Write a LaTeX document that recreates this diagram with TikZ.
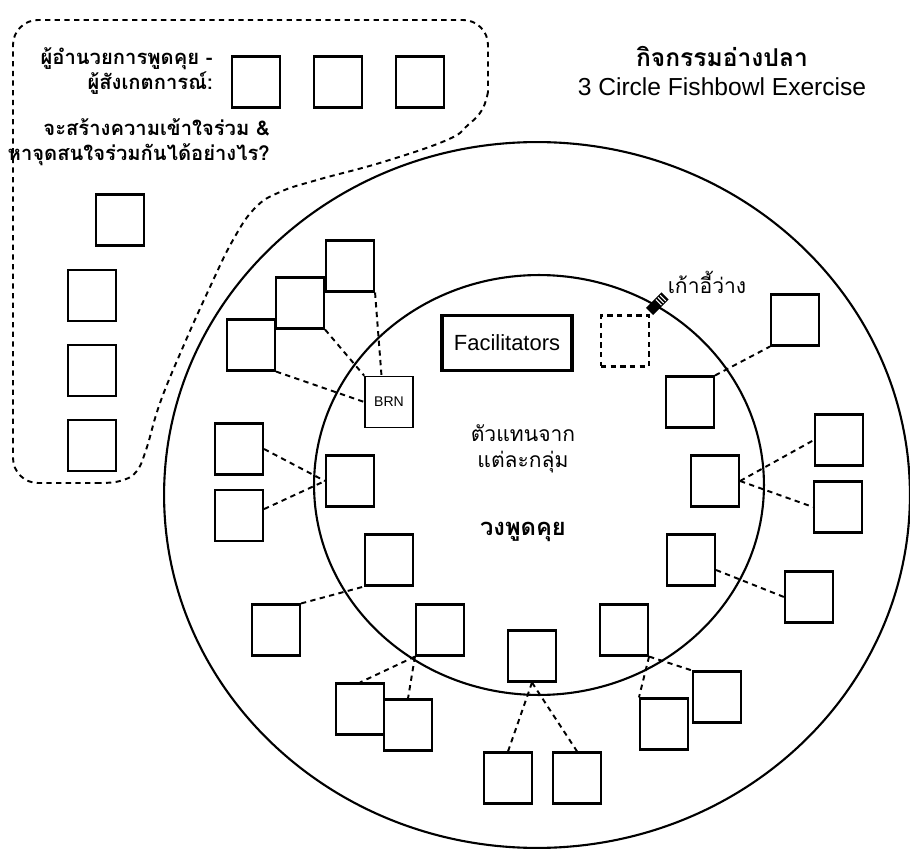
\documentclass[tikz,border=0pt]{standalone}
\usepackage{fontspec}
\setmainfont{Liberation Sans}
\newfontfamily\thaifont[Script=Thai]{Loma}
\usetikzlibrary{positioning}

\begin{document}
\begin{tikzpicture}[x=0.02cm, y=-0.02cm, node distance=0.64cm,
    chair/.style={draw, line width=1.2pt, minimum width=0.96cm, minimum height=1.02cm, inner sep=0pt},
    link/.style={line width=1.1pt, dash pattern=on 3pt off 2.5pt},
    thaibold/.style={font=\thaifont\bfseries\fontsize{11.5}{14.5}\selectfont},
    thaitext/.style={font=\thaifont\fontsize{12}{15}\selectfont}]
    \useasboundingbox (0,0) rectangle (910,851);

    \coordinate (bowl) at (537,495);
    \coordinate (talk) at (539,485);
    \draw[line width=1.2pt] (bowl) ellipse [x radius=7.46cm, y radius=7.06cm];
    \draw[line width=1.2pt] (talk) ellipse [x radius=4.5cm, y radius=4.2cm];

    \draw[link, rounded corners=0.5cm] (100,483) -- (13,483) -- (13,20) -- (488,20) -- (488,92);
    \draw[link] plot[smooth, tension=0.7] coordinates {(488,92) (482,110) (468,125) (447,140) (383,162) (317,180) (280,192) (255,208) (233,240) (210,287) (183,347) (160,403) (146,450) (136,472) (120,481) (100,483)};

    \node[thaibold, anchor=east, align=right, inner sep=0pt] (mod) at (213,71) {ผู้อำนวยการพูดคุย -\\ผู้สังเกตการณ์:};
    \node[chair] (t1) at (256,82) {};
    \node[chair, right=of t1] (t2) {};
    \node[chair, right=of t2] (t3) {};
    \node[thaibold, anchor=east, align=right, inner sep=0pt] (ask) at (270,142) {จะสร้างความเข้าใจร่วม \&\\หาจุดสนใจร่วมกันได้อย่างไร?};

    \node[chair] (l1) at (120,220) {};
    \node[chair, below=0.44cm of l1, xshift=-0.56cm] (l2) {};
    \node[chair, below=0.44cm of l2] (l3) {};
    \node[chair, below=0.44cm of l3] (l4) {};

    \node[font=\thaifont\bfseries\fontsize{14}{16}\selectfont, inner sep=0pt] (title) at (722,56) {กิจกรรมอ่างปลา};
    \node[font=\fontsize{14}{16}\selectfont, inner sep=0pt] (sub) at (722,87) {3 Circle Fishbowl Exercise};

    \node[draw, line width=2.2pt, minimum width=2.6cm, minimum height=1.1cm, font=\fontsize{12.5}{15}\selectfont] (f) at (507,343) {Facilitators};
    \node[chair, line width=0.9pt, font=\fontsize{8}{9}\selectfont] (brn) at (389,402) {BRN};
    \node[chair, dash pattern=on 3pt off 2.5pt] (free) at (625,341) {};
    \node[thaitext] (freelbl) at (707,282) {เก้าอี้ว่าง};
    \begin{scope}[shift={(658,303)}, rotate=45]
        \fill (-12,-5) rectangle (10,5);
        \foreach \s in {1,4,7}
            \draw[white, line width=0.6pt] (\s,-4) -- (\s,4);
    \end{scope}

    \node[thaitext, align=center] (rep) at (523,449) {ตัวแทนจาก\\แต่ละกลุ่ม};
    \node[font=\thaifont\bfseries\fontsize{13.5}{16}\selectfont] (circ) at (523,532) {วงพูดคุย};

    \node[chair] (i1) at (350,481) {};
    \node[chair] (i2) at (389,560) {};
    \node[chair] (i3) at (440,630) {};
    \node[chair] (i4) at (532,656) {};
    \node[chair] (i5) at (624,630) {};
    \node[chair] (i6) at (691,560) {};
    \node[chair] (i7) at (715,481) {};
    \node[chair] (i8) at (690,402) {};

    \node[chair] (o1) at (251,345) {};
    \node[chair] (o2) at (300,303) {};
    \node[chair] (o3) at (350,266) {};
    \node[chair] (o4) at (239,449) {};
    \node[chair, below=0.26cm of o4] (o5) {};
    \node[chair] (o6) at (276,630) {};
    \node[chair] (o7) at (360,709) {};
    \node[chair] (o8) at (408,725) {};
    \node[chair] (o9) at (508,778) {};
    \node[chair, right=0.38cm of o9] (o10) {};
    \node[chair] (o11) at (664,724) {};
    \node[chair] (o12) at (717,697) {};
    \node[chair] (o13) at (809,597) {};
    \node[chair] (o14) at (839,440) {};
    \node[chair] (o15) at (838,507) {};
    \node[chair] (o16) at (795,320) {};

    \draw[link] (o1.south east) -- (brn.west);
    \draw[link] (o2.south east) -- (brn.north west);
    \draw[link] (o3.south east) -- ([xshift=-0.15cm]brn.north);
    \draw[link] (o4.east) -- (i1.west);
    \draw[link] ([yshift=0.12cm]o5.east) -- (i1.west);
    \draw[link] (o6.north east) -- (i2.south west);
    \draw[link] (i3.south west) -- (o7.north);
    \draw[link] (i3.south west) -- (o8.north);
    \draw[link] (i4.south) -- (o9.north);
    \draw[link] (i4.south) -- (o10.north);
    \draw[link] (i5.south east) -- (o11.north west);
    \draw[link] (i5.south east) -- (o12.north west);
    \draw[link] ([yshift=-0.2cm]i6.east) -- (o13.west);
    \draw[link] (i7.east) -- (o14.west);
    \draw[link] (i7.east) -- (o15.west);
    \draw[link] (i8.north east) -- (o16.south west);
\end{tikzpicture}
\end{document}
